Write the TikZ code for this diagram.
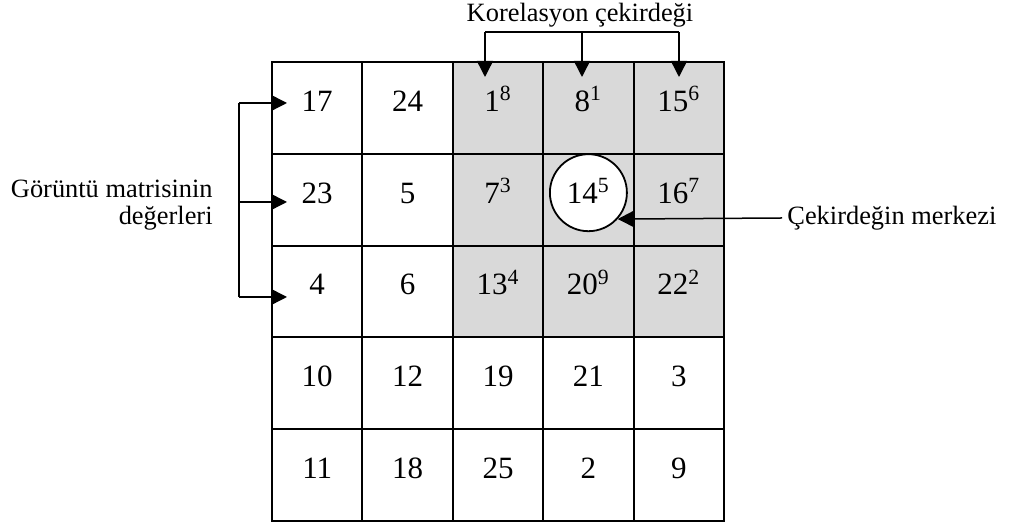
\documentclass[tikz,border=0pt]{standalone}
\usepackage{fontspec}
\setmainfont{Liberation Serif}
\usetikzlibrary{positioning,arrows.meta}
\definecolor{kerngray}{RGB}{217,217,217}
\tikzset{
  cell/.style    = {draw, line width=1pt, anchor=north west, inner sep=0pt,
                    minimum width=45.2pt, minimum height=45.9pt},
  num/.style     = {font=\fontsize{15.5}{17}\selectfont, inner sep=1pt,
                    text height=10.5pt, text depth=0pt},
  merkez/.style  = {num, circle, draw, fill=white, line width=0.9pt,
                    minimum size=38.5pt},
  lbl/.style     = {font=\fontsize{13.2}{13.5}\selectfont, inner sep=0pt},
  bar/.style     = {line width=0.75pt},
  pil/.style     = {bar, -{Triangle[length=8pt,width=8pt]}}
}
\newcommand{\kp}[1]{\textsuperscript{#1}}

\begin{document}
\begin{tikzpicture}[x=0.5pt, y=-0.5pt]
  \useasboundingbox (0,0) rectangle (1013,522);
  % ---- image matrix, kernel cells shaded ----
  \foreach \vals [count=\r] in {
      {17,24,1\kp{8},8\kp{1},15\kp{6}},
      {23,5,7\kp{3},14\kp{5},16\kp{7}},
      {4,6,13\kp{4},20\kp{9},22\kp{2}},
      {10,12,19,21,3},
      {11,18,25,2,9}} {
    \foreach \v [count=\c] in \vals {
      \def\cellfill{white}\def\numstyle{num}
      \ifnum\r<4 \ifnum\c>2 \def\cellfill{kerngray}\fi\fi
      \ifnum\r=2 \ifnum\c=4 \def\numstyle{merkez}\fi\fi
      \node[cell, fill=\cellfill] (c\r\c) at ({271+90.4*(\c-1)},{61+91.8*(\r-1)}) {};
      \node[\numstyle, yshift=3.5pt] (n\r\c) at (c\r\c.center) {\v};
    }
  }
  % ---- correlation kernel (top) ----
  \node[lbl] (kor) at (580,15) {Korelasyon çekirdeği};
  \coordinate (kt)  at (582,32);
  \coordinate (kb1) at (485,77);
  \coordinate (kb2) at (582,77);
  \coordinate (kb3) at (679,77);
  \draw[bar] (kb1 |- kt) -- (kb3 |- kt);
  \foreach \i in {1,2,3} \draw[pil] (kb\i |- kt) -- (kb\i);
  % ---- image matrix values (left) ----
  \node[lbl, align=right, anchor=east] (gor) at (213,205)
    {Görüntü matrisinin\\değerleri};
  \coordinate (gx)  at (239,0);
  \coordinate (ga1) at (287,103);
  \coordinate (ga2) at (287,202);
  \coordinate (ga3) at (287,297);
  \draw[bar] (gx |- ga1) -- (gx |- ga3);
  \foreach \i in {1,2,3} \draw[pil] (gx |- ga\i) -- (ga\i);
  % ---- kernel centre (right) ----
  \node[lbl, anchor=west, inner xsep=2.5pt] (cm) at (782,218) {Çekirdeğin merkezi};
  \draw[pil] (cm.west) -- (n24.-42);
\end{tikzpicture}
\end{document}
